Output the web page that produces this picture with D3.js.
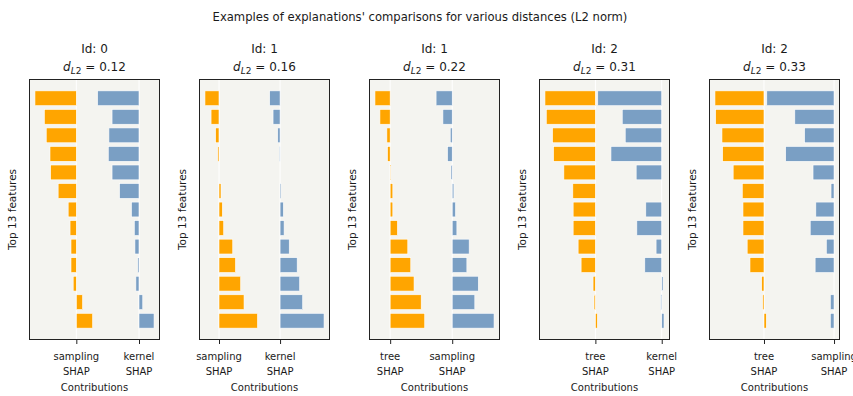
<!DOCTYPE html>
<html>
<head>
<meta charset="utf-8">
<script src="https://cdn.jsdelivr.net/npm/d3@7"></script>
<style>
    body { margin: 0; background: #fff; }
    svg { display: block; font-family: "DejaVu Sans", sans-serif; }
</style>
</head>
<body>
<svg id="chart" width="853" height="396"></svg>
<script>
let suptitle = "Examples of explanations' comparisons for various distances (L2 norm)"

let panel_ids = [0, 1, 1, 2, 2]
let distances = ['0.12', '0.16', '0.22', '0.31', '0.33']
let method_labels = [
    ['sampling', 'kernel'],
    ['sampling', 'kernel'],
    ['tree', 'sampling'],
    ['tree', 'kernel'],
    ['tree', 'sampling']
]

// first method (orange), features top -> bottom, in units of column spacing
let left_values = [
    [-0.66, -0.51, -0.48, -0.42, -0.41, -0.29, -0.13, -0.10, -0.085, -0.085, -0.05, 0.10, 0.26],
    [-0.23, -0.13, -0.055, -0.02, 0, 0.033, 0.055, 0.077, 0.225, 0.27, 0.355, 0.41, 0.63],
    [-0.245, -0.165, -0.053, -0.043, 0.01, 0.043, 0.043, 0.117, 0.284, 0.332, 0.385, 0.50, 0.557],
    [-0.76, -0.74, -0.645, -0.63, -0.475, -0.34, -0.335, -0.335, -0.26, -0.215, -0.035, -0.02, 0.03],
    [-0.70, -0.69, -0.60, -0.59, -0.44, -0.31, -0.30, -0.30, -0.24, -0.20, -0.033, -0.019, 0.033]
]

// second method (blue)
let right_values = [
    [-0.66, -0.43, -0.48, -0.49, -0.43, -0.31, -0.12, -0.075, -0.065, -0.02, -0.05, 0.06, 0.24],
    [-0.17, -0.115, -0.038, -0.012, 0, 0.016, 0.054, 0.066, 0.15, 0.28, 0.32, 0.37, 0.72],
    [-0.26, -0.15, -0.032, -0.075, -0.02, 0.027, 0.053, 0.075, 0.273, 0.236, 0.42, 0.364, 0.674],
    [-0.964, -0.595, -0.55, -0.765, -0.385, 0, -0.24, -0.375, -0.085, -0.255, 0.02, -0.015, 0.035],
    [-0.96, -0.56, -0.42, -0.69, -0.30, -0.043, -0.26, -0.34, -0.11, -0.27, 0, -0.053, -0.053]
]

let colors = ['#ffa500', '#7a9fc4']
let bg = '#f4f4f0'

let pad = { 'l': 29, 't': 79, 'b': 340 }
let panel_w = 131
let panel_step = 170

let svg = d3.select('#chart')

svg.append('text')
    .attr('x', 420)
    .attr('y', 21)
    .attr('text-anchor', 'middle')
    .style('font-size', '11.6px')
    .style('fill', '#1a1a1a')
    .text(suptitle)

panel_ids.forEach((id, p) => {
    let x0 = pad.l + p * panel_step
    let g = svg.append('g')

    let series = [left_values[p], right_values[p]]
    let ends = [0, 1]
    series.forEach((vals, c) => vals.forEach(v => ends.push(c + v)))
    let lo = d3.min(ends), hi = d3.max(ends)
    let m = (hi - lo) * 0.05

    let x = d3.scaleLinear()
        .domain([lo - m, hi + m])
        .range([x0, x0 + panel_w])

    let n = left_values[p].length
    let y = d3.scaleLinear()
        .domain([-0.4 - 0.05 * (n - 0.2), n - 0.6 + 0.05 * (n - 0.2)])
        .range([pad.t, pad.b])

    g.append('rect')
        .attr('x', x0)
        .attr('y', pad.t)
        .attr('width', panel_w)
        .attr('height', pad.b - pad.t)
        .style('fill', bg)

    // white grid lines at the two columns
    g.append('g')
        .selectAll('line')
        .data([0, 1]).enter()
        .append('line')
        .attr('x1', d => x(d)).attr('x2', d => x(d))
        .attr('y1', pad.t).attr('y2', pad.b)
        .style('stroke', '#fff')
        .style('stroke-width', 1)

    series.forEach((vals, c) => {
        g.append('g')
            .selectAll('rect')
            .data(vals).enter()
            .append('rect')
            .attr('x', d => x(Math.min(c, c + d)))
            .attr('width', d => Math.abs(x(c + d) - x(c)))
            .attr('y', (d, i) => y(i - 0.4))
            .attr('height', y(0.8) - y(0))
            .style('fill', colors[c])
            .style('stroke', '#fff')
            .style('stroke-width', 0.6)
    })

    g.append('rect')
        .attr('x', x0 + 0.5)
        .attr('y', pad.t + 0.5)
        .attr('width', panel_w - 1)
        .attr('height', pad.b - pad.t - 1)
        .style('fill', 'none')
        .style('stroke', '#222')
        .style('stroke-width', 1)

    let axis = d3.axisBottom(x)
        .tickValues([0, 1])
        .tickSize(4)
        .tickFormat('')
    let ax = g.append('g')
        .attr('transform', `translate(0,${pad.b})`)
        .call(axis)
    ax.select('.domain').remove()
    ax.selectAll('line').style('stroke', '#222')

    let labels = g.append('g')
        .selectAll('text')
        .data(method_labels[p]).enter()
        .append('text')
        .attr('text-anchor', 'middle')
        .style('font-size', '10px')
        .style('fill', '#1a1a1a')
    labels.append('tspan')
        .attr('x', (d, i) => x(i))
        .attr('y', 360)
        .text(d => d)
    labels.append('tspan')
        .attr('x', (d, i) => x(i))
        .attr('y', 375)
        .text('SHAP')

    let cx = x0 + panel_w / 2
    g.append('text')
        .attr('x', cx)
        .attr('y', 391)
        .attr('text-anchor', 'middle')
        .style('font-size', '10px')
        .style('fill', '#1a1a1a')
        .text('Contributions')

    g.append('text')
        .attr('x', cx)
        .attr('y', 53)
        .attr('text-anchor', 'middle')
        .style('font-size', '12px')
        .style('fill', '#1a1a1a')
        .text(`Id: ${id}`)

    let t2 = g.append('text')
        .attr('x', cx)
        .attr('y', 71)
        .attr('text-anchor', 'middle')
        .style('font-size', '12px')
        .style('fill', '#1a1a1a')
    t2.append('tspan').style('font-style', 'italic').text('d')
    t2.append('tspan').attr('dy', 3).style('font-size', '9px').style('font-style', 'italic').text('L')
    t2.append('tspan').style('font-size', '9px').text('2')
    t2.append('tspan').attr('dy', -3).text(` = ${distances[p]}`)

    g.append('text')
        .attr('transform', `translate(${x0 - 13},${(pad.t + pad.b) / 2}) rotate(-90)`)
        .attr('text-anchor', 'middle')
        .style('font-size', '10.5px')
        .style('fill', '#1a1a1a')
        .text('Top 13 features')
})
</script>
</body>
</html>
